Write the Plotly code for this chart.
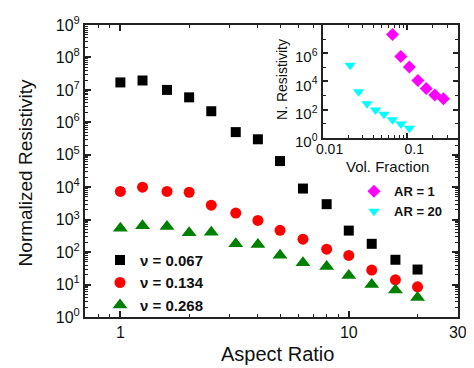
import numpy as np
import plotly.graph_objects as go

# ---------------- data ----------------
aspect_ratio = [1, 1.25, 1.6, 2, 2.5, 3.2, 4, 5, 6.3, 8, 10, 12.6, 16, 20]
res_v0067 = [1.7e7, 1.95e7, 1.0e7, 5.9e6, 2.2e6, 5.0e5, 3.0e5, 6.4e4, 9.1e3, 3.0e3, 460, 180, 58, 29]
res_v0134 = [7400, 1.0e4, 7400, 7000, 2800, 1600, 950, 470, 250, 123, 79, 28, 14, 8.5]
res_v0268 = [540, 650, 620, 395, 410, 180, 170, 80, 47, 36, 19, 10, 6.8, 4.0]

vf_ar1 = [0.067, 0.084, 0.106, 0.134, 0.168, 0.212, 0.268]
res_ar1 = [2.1e7, 5.9e5, 1.05e5, 1.15e4, 3.1e3, 1.08e3, 575]
vf_ar20 = [0.0212, 0.0267, 0.0336, 0.0423, 0.0532, 0.067, 0.0843, 0.106]
res_ar20 = [1.4e5, 1.85e3, 260, 92, 46, 19, 9.5, 4.8]

main_names = ["ν = 0.067", "ν = 0.134", "ν = 0.268"]
inset_names = ["AR = 1", "AR = 20"]

main_x_ticks = [1, 10, 30]
main_y_exps = list(range(0, 10))
inset_x_ticks = [0.01, 0.1]
inset_y_exps = [0, 2, 4, 6]

FONT = "Liberation Sans, Arial, sans-serif"
AX = "#222222"

# page offset (default body margin of the html page)
OFF = 8
# figure geometry (reference pixel coordinates minus page offset)
W, H = 474 - OFF, 368 - OFF
L, T = 85 - OFF, 14 - OFF
R = W - (458 - OFF)
B = H - (317 - OFF)
PW, PH = W - L - R, H - T - B


def px2paper(x, y):
    """reference-screenshot pixel -> paper coordinate"""
    x -= OFF
    y -= OFF
    return (x - L) / PW, (H - B - y) / PH


fig = go.Figure()
fig.add_trace(go.Scatter(x=aspect_ratio, y=res_v0067, mode="markers", name=main_names[0],
                         marker=dict(symbol="square", size=10, color="black"), legend="legend"))
fig.add_trace(go.Scatter(x=aspect_ratio, y=res_v0134, mode="markers", name=main_names[1],
                         marker=dict(symbol="circle", size=11, color="#FF0000"), legend="legend"))
fig.add_trace(go.Scatter(x=aspect_ratio, y=res_v0268, mode="markers", name=main_names[2],
                         marker=dict(symbol="triangle-up", size=13, color="#008000"), legend="legend"))

fig.add_trace(go.Scatter(x=vf_ar1, y=res_ar1, mode="markers", name=inset_names[0],
                         xaxis="x2", yaxis="y2",
                         marker=dict(symbol="diamond", size=10, color="#FF00FF"), legend="legend2"))
fig.add_trace(go.Scatter(x=vf_ar20, y=res_ar20, mode="markers", name=inset_names[1],
                         xaxis="x2", yaxis="y2",
                         marker=dict(symbol="triangle-down", size=10, color="#00FFFF"), legend="legend2"))


def log_minor(lo_exp, hi_exp):
    return [m * 10.0 ** e for e in range(lo_exp, hi_exp + 1) for m in range(2, 10)]


common = dict(showgrid=False, zeroline=False, showline=True, linecolor=AX, linewidth=2,
              ticks="inside", tickcolor=AX, mirror="ticks", type="log",
              ticklabeloverflow="allow")

x_in0 = px2paper(322.5, 0)[0]
y_in0 = px2paper(0, 131)[1]

fig.update_layout(
    width=W, height=H,
    margin=dict(l=L, r=R, t=T, b=B),
    paper_bgcolor="white", plot_bgcolor="white",
    font=dict(family=FONT, color="#111111"),
    xaxis=dict(common, domain=[0, 1], anchor="y",
               range=[np.log10(0.7), np.log10(30) + 0.001],
               tickmode="array", tickvals=main_x_ticks, ticktext=[str(v) for v in main_x_ticks],
               ticklen=6, tickwidth=1.5, tickfont=dict(size=16),
               minor=dict(tickmode="array", tickvals=log_minor(-1, 1), ticks="inside",
                          ticklen=3, tickwidth=1, tickcolor=AX)),
    yaxis=dict(common, domain=[0, 1], anchor="x", range=[-0.0008, 9.0008],
               tickmode="array", tickvals=[10.0 ** e for e in main_y_exps],
               ticktext=[f"10<sup>{e}</sup>" for e in main_y_exps],
               ticklen=6, tickwidth=1.5, tickfont=dict(size=16),
               minor=dict(tickmode="array", tickvals=log_minor(0, 8), ticks="inside",
                          ticklen=3, tickwidth=1, tickcolor=AX)),
    xaxis2=dict(common, domain=[x_in0, 1.0], anchor="y2",
                range=[-2.0005, -0.4],
                tickmode="array", tickvals=inset_x_ticks, ticktext=[str(v) for v in inset_x_ticks],
                ticklen=5, tickwidth=1.5, tickfont=dict(size=14),
                ticklabelshift=7, ticklabelstandoff=-3,
                minor=dict(tickmode="array", tickvals=log_minor(-2, -1), ticks="inside",
                           ticklen=3, tickwidth=1, tickcolor=AX)),
    yaxis2=dict(common, domain=[y_in0, 1.0], anchor="x2", range=[-0.0005, 8],
                tickmode="array", tickvals=[10.0 ** e for e in inset_y_exps],
                ticktext=[f"10<sup>{e}</sup>" for e in inset_y_exps],
                ticklen=5, tickwidth=1.5, tickfont=dict(size=15),
                ticklabelshift=4,
                minor=dict(tickmode="array", tickvals=[10.0 ** e for e in (1, 3, 5, 7)],
                           ticks="inside", ticklen=3, tickwidth=1, tickcolor=AX)),
    legend=dict(x=px2paper(100, 0)[0], y=px2paper(0, 241)[1], xanchor="left", yanchor="top",
                bgcolor="rgba(0,0,0,0)", font=dict(size=15, weight="bold", family=FONT)),
    legend2=dict(x=px2paper(354, 0)[0], y=px2paper(0, 171)[1], xanchor="left", yanchor="top",
                 bgcolor="rgba(0,0,0,0)", font=dict(size=13, weight="bold", family=FONT)),
    showlegend=True,
)

titles = [
    ("Normalized Resistivity", 25, 168, 19, -90),
    ("Aspect Ratio", 277, 355, 20, 0),
    ("N. Resistivity", 282, 71, 14, -90),
    ("Vol. Fraction", 387, 161, 15, 0),
]
for text, x, y, size, ang in titles:
    xp, yp = px2paper(x, y)
    fig.add_annotation(text=text, x=xp, y=yp, xref="paper", yref="paper", showarrow=False,
                       xanchor="center", yanchor="middle", textangle=ang,
                       font=dict(size=size, family=FONT, color="#111111"))

fig.write_html("out.html")
